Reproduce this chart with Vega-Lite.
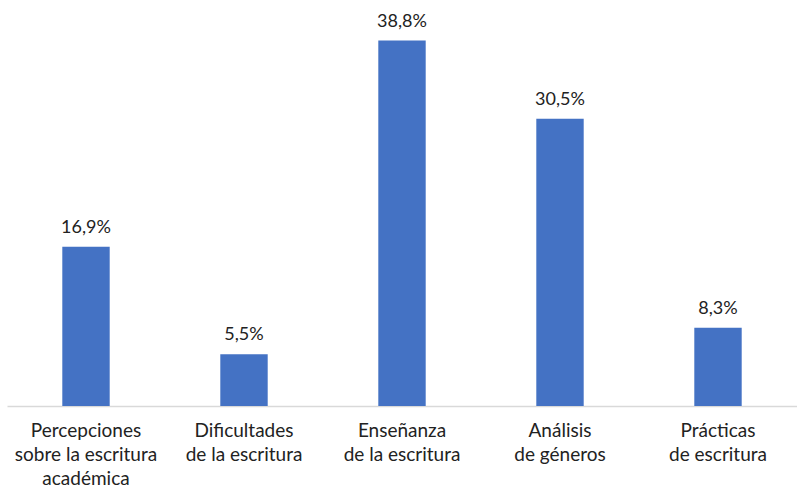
{
  "$schema": "https://vega.github.io/schema/vega-lite/v6.json",
  "autosize": "none",
  "width": 790,
  "height": 405,
  "padding": {"left": 7, "top": 1, "right": 0, "bottom": 81},
  "background": "white",
  "config": {
    "view": {"stroke": null},
    "font": "Lato",
    "locale": {"number": {"decimal": ",", "thousands": ".", "grouping": [3], "currency": ["", " €"]}}
  },
  "data": {
    "values": [
      {"categoria": "Percepciones|sobre la escritura|académica", "valor": 0.169},
      {"categoria": "Dificultades|de la escritura", "valor": 0.055},
      {"categoria": "Enseñanza|de la escritura", "valor": 0.388},
      {"categoria": "Análisis|de géneros", "valor": 0.305},
      {"categoria": "Prácticas|de escritura", "valor": 0.083}
    ]
  },
  "encoding": {
    "x": {
      "field": "categoria",
      "type": "nominal",
      "sort": null,
      "scale": {"paddingInner": 0.7, "paddingOuter": 0.35},
      "axis": {
        "title": null,
        "labelAngle": 0,
        "labelExpr": "split(datum.label, '|')",
        "labelFontSize": 19,
        "labelLineHeight": 24,
        "labelColor": "#222222",
        "labelPadding": 15,
        "ticks": false,
        "domainColor": "#d9d9d9",
        "domainWidth": 1.5,
        "labelLimit": 300
      }
    },
    "y": {
      "field": "valor",
      "type": "quantitative",
      "scale": {"domain": [0, 0.43]},
      "axis": null
    }
  },
  "layer": [
    {"mark": {"type": "bar", "color": "#4472C4"}},
    {
      "mark": {"type": "text", "dy": -10, "fontSize": 18, "color": "#222222", "baseline": "bottom"},
      "encoding": {"text": {"field": "valor", "type": "quantitative", "format": ".1%"}}
    }
  ]
}
